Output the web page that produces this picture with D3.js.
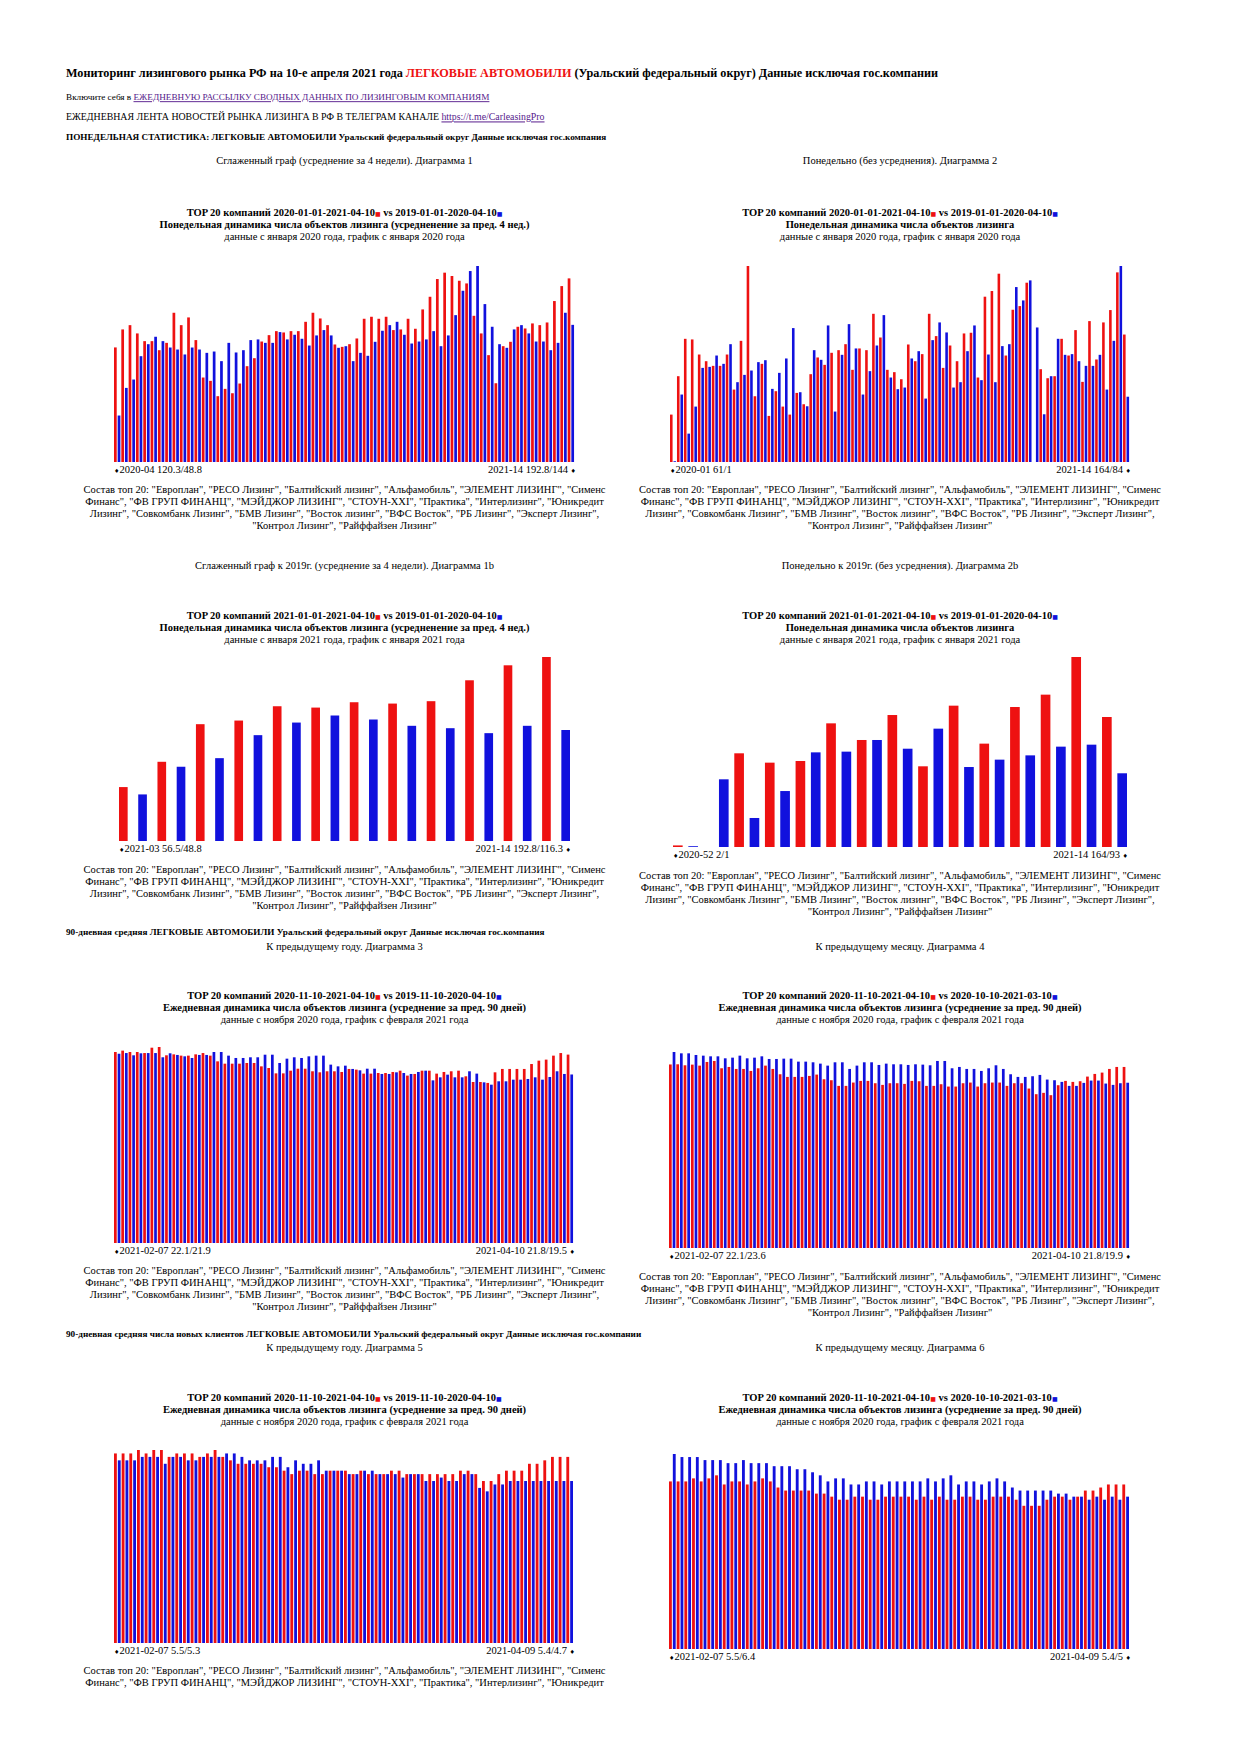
<!DOCTYPE html>
<html>
<head>
<meta charset="utf-8">
<script src="https://cdn.jsdelivr.net/npm/d3@7"></script>
<style>
body { margin: 0; background: #fff; }
text { font-family: "Liberation Serif", "Times New Roman", serif; fill: #000; }
</style>
</head>
<body>
<script>
// Диаграмма 1: сглаженный граф (4 нед.), 2020-04 .. 2021-14
var c1Red = [120.3,139.2,143.7,135.0,126.9,126.9,117.4,125.1,156.7,143.7,151.8,128.0,88.7,85.2,69.1,76.8,72.2,82.4,100.6,109.0,126.5,133.2,137.4,136.0,137.4,137.4,147.2,156.7,150.7,143.7,123.4,120.9,123.7,129.7,150.4,152.5,150.4,152.5,138.5,139.2,150.4,139.9,160.2,173.5,192.1,198.8,195.3,190.3,187.5,153.5,135.0,112.2,82.7,121.6,126.2,142.0,140.2,145.5,143.7,146.5,169.0,184.7,192.8];
var c1Blue = [48.8,77.8,86.6,111.1,123.7,131.5,126.9,120.2,118.1,112.9,120.2,118.1,114.6,116.0,105.9,125.1,115.0,117.4,128.0,128.7,125.1,125.1,136.4,128.7,133.6,129.4,122.3,132.9,138.5,132.9,119.9,121.6,105.9,114.6,111.5,126.2,137.8,143.7,147.2,133.6,124.4,126.5,128.7,137.4,121.6,132.9,154.2,179.8,200.5,205.8,165.8,142.0,123.7,119.9,139.2,143.7,135.0,126.5,126.5,117.4,125.1,156.7,144];

// Диаграмма 2: понедельно, 2020-01 .. 2021-14
var c2Red = [61,110.4,158.5,157.7,138.3,129.7,123.7,123.7,138.3,93.2,155.9,252.2,84.6,126.3,59.3,91.1,71.3,61.0,88.9,74.3,113.0,134.5,125.0,140.5,143.9,151.6,118.6,146.1,143.9,190.7,160.2,118.6,115.6,106.5,151.2,129.7,138.8,190.7,162.0,121.1,149.9,129.7,165.4,166.3,108.7,212.7,220.0,242.3,137.0,195.9,200.6,230.7,0,119.4,107.8,110.4,158.5,137.0,169.7,103.1,181.3,131.9,179.6,195.5,244.0,164];
var c2Blue = [1,86.8,36.5,71.3,121.1,122.4,137.0,126.3,151.6,102.7,112.1,117.7,128.5,131.0,94.1,114.7,133.2,172.3,89.8,71.7,143.9,131.5,175.7,64.9,137.9,177.4,146.1,86.8,116.9,149.9,189.0,108.7,93.7,95.8,133.2,142.6,81.6,156.8,179.6,166.7,95.8,102.7,142.6,175.7,105.3,138.3,102.7,149.1,151.6,225.1,207.9,233.7,173.1,61.4,110.4,158.5,137.9,138.8,129.7,123.7,123.7,137.9,93.2,155.9,252.2,84];

// Диаграмма 1b: 2021-03 .. 2021-14
var c1bRed = [56.5,83.0,122.4,126.2,141.2,139.8,145.4,144.0,146.5,168.4,184.1,192.8];
var c1bBlue = [48.8,77.8,86.8,110.9,124.1,131.5,127.3,120.7,118.2,113.0,120.7,116.3];

// Диаграмма 2b: 2020-52 .. 2021-14
var c2bRed = [2,0,118.2,106.4,108.5,156.0,135.0,166.5,101.8,178.3,130.4,176.6,192.2,239.7,164];
var c2bBlue = [1,85.4,36.6,70.6,119.4,120.3,135.0,124.0,149.3,100.9,110.2,115.6,126.6,129.1,93];

// Диаграмма 3: 90 дней, к предыдущему году
var c3Red = [22.1,22.26,22.1,22.1,21.98,22.6,22.68,21.72,21.83,21.68,21.68,21.83,21.98,21.68,21.02,20.75,20.75,20.75,20.83,20.83,20.44,20.25,19.63,19.63,19.94,20.17,20.17,19.87,19.75,19.87,19.87,19.79,20.14,20.06,19.6,19.6,19.67,19.67,19.79,19.94,19.37,19.56,19.94,19.94,19.6,19.79,19.87,19.94,19.29,18.63,18.63,18.52,19.75,20.14,20.14,20.14,20.14,20.71,21.1,21.22,21.68,21.98,21.8];
var c3Blue = [21.9,21.98,21.72,21.95,21.98,21.98,21.49,21.95,21.76,21.6,21.41,21.76,21.76,22.1,22.1,21.68,21.41,21.41,21.49,21.49,21.79,21.79,20.83,21.33,21.49,21.41,21.6,21.68,21.68,20.64,20.44,20.52,20.14,19.98,20.17,20.17,19.56,19.56,19.75,19.67,19.56,19.79,19.94,18.82,19.17,19.48,19.17,19.17,19.87,19.6,18.59,18.32,18.71,18.71,18.9,18.9,18.98,19.17,18.9,19.21,19.87,19.56,19.5];

// Диаграмма 4: 90 дней, к предыдущему месяцу
var c4Red = [22.1,22.12,22.0,22.08,21.96,22.4,22.52,21.64,21.8,21.56,21.56,21.32,21.64,21.96,21.56,20.92,20.6,20.6,20.6,20.72,20.88,20.32,20.2,19.52,19.52,19.92,20.12,20.12,19.84,19.64,19.84,19.84,19.76,20.12,20.08,19.52,19.52,19.72,19.44,19.44,19.84,19.92,19.44,19.84,19.92,19.92,19.52,19.84,19.84,19.2,18.52,18.68,18.4,19.6,20.12,20.0,20.08,20.64,20.96,21.12,21.56,21.8,21.8];
var c4Blue = [23.6,23.44,23.44,23.24,23.16,23.08,23.08,22.84,22.92,23.16,22.84,22.92,23.08,22.76,22.76,22.8,22.8,22.44,22.44,22.36,22.2,21.96,22.36,22.36,21.56,21.96,22.36,22.36,22.04,22.2,22.12,22.12,22.04,22.12,22.08,22.0,22.52,22.52,21.64,21.8,21.56,21.56,21.32,21.64,22.0,21.56,20.92,20.6,20.6,20.68,20.84,20.28,20.2,20.0,19.52,19.52,19.88,20.16,20.16,19.8,19.64,19.84,19.9];

// Диаграмма 5: новые клиенты, к предыдущему году
var c5Red = [5.5,5.5,5.5,5.6,5.5,5.6,5.6,5.4,5.5,5.5,5.5,5.4,5.5,5.6,5.4,5.3,5.2,5.2,5.2,5.2,5.1,5.1,5.0,4.9,5.0,5.0,4.9,4.9,5.0,5.0,5.0,4.9,5.0,4.9,4.9,4.9,5.0,5.0,4.9,4.9,4.9,4.9,4.9,4.9,4.9,5.0,5.0,4.9,4.7,4.7,4.9,5.0,5.0,5.0,5.2,5.2,5.3,5.4,5.4,5.4];
var c5Blue = [5.3,5.3,5.3,5.4,5.4,5.4,5.2,5.4,5.4,5.3,5.3,5.4,5.4,5.4,5.5,5.5,5.4,5.3,5.3,5.3,5.4,5.4,5.1,5.3,5.2,5.2,5.3,5.0,5.0,5.0,4.9,4.9,5.0,5.0,4.9,4.9,4.9,4.8,4.9,4.9,4.7,4.7,4.8,4.7,4.7,4.9,4.9,4.5,4.4,4.6,4.6,4.7,4.7,4.7,4.7,4.7,4.7,4.7,4.7,4.7];

// Диаграмма 6: новые клиенты, к предыдущему месяцу
var c6Red = [5.5,5.5,5.5,5.6,5.5,5.6,5.7,5.4,5.5,5.5,5.4,5.5,5.6,5.5,5.3,5.2,5.2,5.2,5.2,5.1,5.1,5.0,4.9,4.9,5.0,5.0,4.9,4.9,5.0,5.0,5.0,5.0,4.9,5.0,4.9,5.0,4.9,4.9,5.0,5.0,4.9,4.9,5.0,5.0,5.0,4.9,4.7,4.7,4.7,4.9,5.0,5.0,4.9,5.0,5.2,5.2,5.3,5.4,5.4,5.4];
var c6Blue = [6.4,6.3,6.3,6.3,6.2,6.2,6.2,6.1,6.1,6.2,6.1,6.1,6.1,6.0,6.0,6.0,5.9,5.9,5.8,5.7,5.5,5.6,5.6,5.4,5.4,5.5,5.5,5.4,5.5,5.5,5.5,5.5,5.5,5.6,5.5,5.6,5.7,5.4,5.5,5.5,5.4,5.5,5.6,5.5,5.3,5.2,5.2,5.2,5.2,5.2,5.1,5.1,5.0,5.0,4.9,5.0,4.9,5.0,4.9,5.0];

// подписи краёв графиков
var endLabels = {
  c1: ["2020-04 120.3/48.8", "2021-14 192.8/144"],
  c2: ["2020-01 61/1", "2021-14 164/84"],
  c1b: ["2021-03 56.5/48.8", "2021-14 192.8/116.3"],
  c2b: ["2020-52 2/1", "2021-14 164/93"],
  c3: ["2021-02-07 22.1/21.9", "2021-04-10 21.8/19.5"],
  c4: ["2021-02-07 22.1/23.6", "2021-04-10 21.8/19.9"],
  c5: ["2021-02-07 5.5/5.3", "2021-04-09 5.4/4.7"],
  c6: ["2021-02-07 5.5/6.4", "2021-04-09 5.4/5"]
};

var compLines = [
  'Состав топ 20: "Европлан", "РЕСО Лизинг", "Балтийский лизинг", "Альфамобиль", "ЭЛЕМЕНТ ЛИЗИНГ", "Сименс',
  'Финанс", "ФВ ГРУП ФИНАНЦ", "МЭЙДЖОР ЛИЗИНГ", "СТОУН-XXI", "Практика", "Интерлизинг", "Юникредит',
  'Лизинг", "Совкомбанк Лизинг", "БМВ Лизинг", "Восток лизинг", "ВФС Восток", "РБ Лизинг", "Эксперт Лизинг",',
  '"Контрол Лизинг", "Райффайзен Лизинг"'
];

var W = 1242, H = 1756;
var RED = "#ee1111", BLUE = "#1111dd", LINK = "#551a8b";
var LX = 344.5, RX = 900;  // центры колонок
var FS = 10.5;             // основной размер шрифта под графиками

var svg = d3.select("body").append("svg").attr("width", W).attr("height", H);
svg.append("rect").attr("width", W).attr("height", H).attr("fill", "#fff");

function txt(x, y, parts, size, anchor, bold) {
  var t = svg.append("text")
    .attr("x", x).attr("y", y).attr("dy", "0.35em")
    .attr("font-size", size)
    .attr("text-anchor", anchor || "start")
    .attr("font-weight", bold ? "bold" : "normal");
  parts.forEach(function(p) {
    if (typeof p == "string") p = {t: p};
    var s = t.append("tspan").text(p.t);
    if (p.fill) s.attr("fill", p.fill);
    if (p.u) s.attr("text-decoration", "underline");
    if (p.sym) s.attr("font-family", "DejaVu Sans").attr("font-size", p.sym);
  });
  return t;
}

function chartTitle(cx, y, r1, r2, line2, line3) {
  txt(cx, y, ["TOP 20 компаний " + r1, {t: "■", fill: RED, sym: 6}, " vs " + r2, {t: "■", fill: BLUE, sym: 6}], FS, "middle", true);
  txt(cx, y + 12, [line2], FS, "middle", true);
  txt(cx, y + 24, [line3], FS, "middle", false);
}

function comp(cx, y, n) {
  compLines.slice(0, n).forEach(function(l, i) {
    txt(cx, y + i * 12, [l], FS, "middle", false);
  });
}

// пары столбиков красный/синий
function pairs(cfg) {
  var n = cfg.red.length;
  var y = d3.scaleLinear()
    .domain([0, d3.max(cfg.red.concat(cfg.blue))])
    .range([cfg.base, cfg.top]);
  var g = svg.append("g");
  var xr, xb, bw;
  if (cfg.pad == null) {
    var x = d3.scaleBand().domain(d3.range(n)).range([cfg.x0, cfg.x1]);
    bw = x.bandwidth() * 0.37;
    xr = function(d, i) { return x(i); };
    xb = function(d, i) { return x(i) + x.bandwidth() * 0.5; };
  } else {
    var x2 = d3.scaleBand().domain(d3.range(2 * n)).range([cfg.x0, cfg.x1]).paddingInner(cfg.pad);
    bw = x2.bandwidth();
    xr = function(d, i) { return x2(2 * i); };
    xb = function(d, i) { return x2(2 * i + 1); };
  }
  g.selectAll(".r").data(cfg.red).enter().append("rect")
    .attr("x", xr).attr("width", bw)
    .attr("y", function(d) { return y(d); })
    .attr("height", function(d) { return cfg.base - y(d); })
    .attr("fill", RED);
  g.selectAll(".b").data(cfg.blue).enter().append("rect")
    .attr("x", xb).attr("width", bw)
    .attr("y", function(d) { return y(d); })
    .attr("height", function(d) { return cfg.base - y(d); })
    .attr("fill", BLUE);
  txt(cfg.x0, cfg.base + 7, [{t: "♦", sym: 6}, cfg.labels[0]], FS, "start", false);
  txt(cfg.x1 + 1, cfg.base + 7, [cfg.labels[1] + " ", {t: "♦", sym: 6}], FS, "end", false);
}

// ---- шапка ----
txt(66, 73, ["Мониторинг лизингового рынка РФ на 10-е апреля 2021 года ", {t: "ЛЕГКОВЫЕ АВТОМОБИЛИ", fill: RED},
  " (Уральский федеральный округ) Данные исключая гос.компании"], 12.2, "start", true);
txt(66, 97, ["Включите себя в ", {t: "ЕЖЕДНЕВНУЮ РАССЫЛКУ СВОДНЫХ ДАННЫХ ПО ЛИЗИНГОВЫМ КОМПАНИЯМ", fill: LINK, u: 1}], 9.2, "start", false);
txt(66, 117, ["ЕЖЕДНЕВНАЯ ЛЕНТА НОВОСТЕЙ РЫНКА ЛИЗИНГА В РФ В ТЕЛЕГРАМ КАНАЛЕ ", {t: "https://t.me/CarleasingPro", fill: LINK, u: 1}], 9.85, "start", false);
txt(66, 137, ["ПОНЕДЕЛЬНАЯ СТАТИСТИКА: ЛЕГКОВЫЕ АВТОМОБИЛИ Уральский федеральный округ Данные исключая гос.компания"], 9.2, "start", true);

// ---- ряд 1 ----
txt(LX, 160, ["Сглаженный граф (усреднение за 4 недели). Диаграмма 1"], FS, "middle");
txt(RX, 160, ["Понедельно (без усреднения). Диаграмма 2"], FS, "middle");
chartTitle(LX, 212, "2020-01-01-2021-04-10", "2019-01-01-2020-04-10",
  "Понедельная динамика числа объектов лизинга (усредненение за пред. 4 нед.)",
  "данные с января 2020 года, график с января 2020 года");
chartTitle(RX, 212, "2020-01-01-2021-04-10", "2019-01-01-2020-04-10",
  "Понедельная динамика числа объектов лизинга",
  "данные с января 2020 года, график с января 2020 года");
pairs({red: c1Red, blue: c1Blue, x0: 114, x1: 575, top: 266, base: 462, labels: endLabels.c1});
pairs({red: c2Red, blue: c2Blue, x0: 670, x1: 1130, top: 266, base: 462, labels: endLabels.c2});
comp(LX, 489, 4);
comp(RX, 489, 4);

// ---- ряд 2 ----
txt(LX, 565, ["Сглаженный граф к 2019г. (усреднение за 4 недели). Диаграмма 1b"], FS, "middle");
txt(RX, 565, ["Понедельно к 2019г. (без усреднения). Диаграмма 2b"], FS, "middle");
chartTitle(LX, 615, "2021-01-01-2021-04-10", "2019-01-01-2020-04-10",
  "Понедельная динамика числа объектов лизинга (усредненение за пред. 4 нед.)",
  "данные с января 2021 года, график с января 2021 года");
chartTitle(RX, 615, "2021-01-01-2021-04-10", "2019-01-01-2020-04-10",
  "Понедельная динамика числа объектов лизинга",
  "данные с января 2021 года, график с января 2021 года");
pairs({red: c1bRed, blue: c1bBlue, x0: 119, x1: 570, top: 657, base: 841, pad: 0.55, labels: endLabels.c1b});
pairs({red: c2bRed, blue: c2bBlue, x0: 673, x1: 1127, top: 657, base: 847, pad: 0.37, labels: endLabels.c2b});
comp(LX, 869, 4);
comp(RX, 875, 4);

// ---- ряд 3 ----
txt(66, 932, ["90-дневная средняя ЛЕГКОВЫЕ АВТОМОБИЛИ Уральский федеральный округ Данные исключая гос.компания"], 9.2, "start", true);
txt(LX, 946, ["К предыдущему году. Диаграмма 3"], FS, "middle");
txt(RX, 946, ["К предыдущему месяцу. Диаграмма 4"], FS, "middle");
chartTitle(LX, 995, "2020-11-10-2021-04-10", "2019-11-10-2020-04-10",
  "Ежедневная динамика числа объектов лизинга (усреднение за пред. 90 дней)",
  "данные с ноября 2020 года, график с февраля 2021 года");
chartTitle(RX, 995, "2020-11-10-2021-04-10", "2020-10-10-2021-03-10",
  "Ежедневная динамика числа объектов лизинга (усреднение за пред. 90 дней)",
  "данные с ноября 2020 года, график с февраля 2021 года");
pairs({red: c3Red, blue: c3Blue, x0: 114, x1: 574, top: 1047, base: 1243, labels: endLabels.c3});
pairs({red: c4Red, blue: c4Blue, x0: 669, x1: 1130, top: 1052, base: 1248, labels: endLabels.c4});
comp(LX, 1270, 4);
comp(RX, 1276, 4);

// ---- ряд 4 ----
txt(66, 1334, ["90-дневная средняя числа новых клиентов ЛЕГКОВЫЕ АВТОМОБИЛИ Уральский федеральный округ Данные исключая гос.компании"], 9.2, "start", true);
txt(LX, 1347, ["К предыдущему году. Диаграмма 5"], FS, "middle");
txt(RX, 1347, ["К предыдущему месяцу. Диаграмма 6"], FS, "middle");
chartTitle(LX, 1397, "2020-11-10-2021-04-10", "2019-11-10-2020-04-10",
  "Ежедневная динамика числа объектов лизинга (усреднение за пред. 90 дней)",
  "данные с ноября 2020 года, график с февраля 2021 года");
chartTitle(RX, 1397, "2020-11-10-2021-04-10", "2020-10-10-2021-03-10",
  "Ежедневная динамика числа объектов лизинга (усреднение за пред. 90 дней)",
  "данные с ноября 2020 года, график с февраля 2021 года");
pairs({red: c5Red, blue: c5Blue, x0: 114, x1: 574, top: 1450, base: 1643, labels: endLabels.c5});
pairs({red: c6Red, blue: c6Blue, x0: 669, x1: 1130, top: 1454, base: 1649, labels: endLabels.c6});
comp(LX, 1670, 2);
</script>
</body>
</html>
